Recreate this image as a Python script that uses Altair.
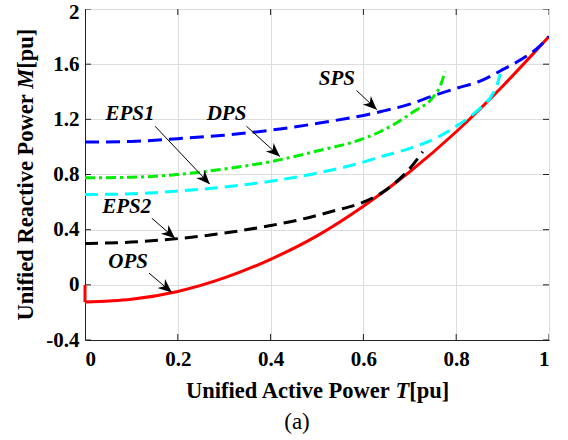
import math
import altair as alt
import pandas as pd

# ---------------- data ----------------
# OPS (red, solid)
ops_t = [0, 0.1, 0.2, 0.3, 0.4, 0.5, 0.6, 0.7, 0.8, 0.9, 1.0]
ops_m = [-0.125, -0.105, -0.048, 0.05, 0.185, 0.355, 0.57, 0.82, 1.11, 1.44, 1.8]
ops_jump_t = [0, 0]
ops_jump_m = [0, -0.125]

# EPS2 (black, dashed)
eps2_t = [0, 0.1, 0.2, 0.3, 0.4, 0.46, 0.535, 0.6, 0.643, 0.7, 0.728]
eps2_m = [0.30, 0.31, 0.335, 0.375, 0.43, 0.47, 0.535, 0.6, 0.675, 0.844, 0.965]

# EPS1 (cyan, dashed)
eps1_t = [0, 0.1, 0.2, 0.273, 0.41, 0.5, 0.6, 0.636, 0.7, 0.76, 0.8, 0.83, 0.851, 0.876, 0.888, 0.895]
eps1_m = [0.655, 0.66, 0.68, 0.70, 0.756, 0.81, 0.89, 0.928, 0.99, 1.07, 1.15, 1.22, 1.28, 1.37, 1.45, 1.53]

# DPS (green, dash-dot)
dps_t = [0, 0.1, 0.2, 0.3, 0.41, 0.5, 0.6, 0.636, 0.708, 0.751, 0.765, 0.776]
dps_m = [0.776, 0.78, 0.80, 0.84, 0.90, 0.97, 1.06, 1.11, 1.255, 1.364, 1.437, 1.546]

# SPS (blue, dashed)
sps_t = [0, 0.1, 0.2, 0.3, 0.42, 0.5, 0.636, 0.7, 0.75, 0.8, 0.85, 0.9, 0.95, 0.973, 1.0]
sps_m = [1.035, 1.04, 1.06, 1.085, 1.13, 1.17, 1.255, 1.31, 1.37, 1.425, 1.475, 1.56, 1.655, 1.71, 1.8]

# annotations: label, text position, arrow start, arrow tip
lab_text = ["SPS", "EPS1", "DPS", "EPS2", "OPS"]
lab_x = [0.543, 0.097, 0.305, 0.09, 0.093]
lab_y = [1.49, 1.236, 1.236, 0.563, 0.167]
arr_x1 = [0.585, 0.151, 0.348, 0.144, 0.138]
arr_y1 = [1.41, 1.15, 1.15, 0.483, 0.085]
arr_x2 = [0.629, 0.269, 0.42, 0.194, 0.187]
arr_y2 = [1.27, 0.73, 0.93, 0.337, -0.055]

x_ticks = [0, 0.2, 0.4, 0.6, 0.8, 1.0]
y_ticks = [-0.4, 0, 0.4, 0.8, 1.2, 1.6, 2.0]

# axis titles (upright part, italic symbol, unit) and caption
x_title = ["Unified Active Power", "T", "[pu]"]
y_title = ["Unified Reactive Power", "M", "[pu]"]
caption = "(a)"

# ---------------- chart ----------------
W, H = 464, 331
X_DOM = [0, 1]
Y_DOM = [-0.4, 2]
FONT = "Liberation Serif"
TFS = 22.5  # axis title font size

label_expr = "datum.value < 0 ? '-' + format(-datum.value, '~g') : format(datum.value, '~g')"

x_axis = alt.Axis(title=None, values=x_ticks, labelExpr=label_expr,
                  grid=True, ticks=False, labelPadding=8)
y_axis = alt.Axis(title=None, values=y_ticks, labelExpr=label_expr,
                  grid=True, ticks=False, labelPadding=6,
                  labelOffset={"condition": {"test": "datum.value >= 2", "value": 3}, "value": 0})
xs = alt.Scale(domain=X_DOM, nice=False, zero=False)
ys = alt.Scale(domain=Y_DOM, nice=False, zero=False)


def X(field="T"):
    return alt.X(f"{field}:Q", scale=xs, axis=x_axis)


def Y(field="M"):
    return alt.Y(f"{field}:Q", scale=ys, axis=y_axis)


def curve(t, m, color, dash=None, interp="monotone", width=3, clip=True):
    df = pd.DataFrame({"T": t, "M": m, "i": list(range(len(t)))})
    kw = dict(color=color, strokeWidth=width, interpolate=interp, clip=clip)
    if dash:
        kw["strokeDash"] = dash
    return alt.Chart(df).mark_line(**kw).encode(x=X(), y=Y(), order="i:Q")


red = curve(ops_t, ops_m, "#ff0000")
red_jump = curve(ops_jump_t, ops_jump_m, "#ff0000", interp="linear", clip=False)
black = curve(eps2_t, eps2_m, "#000000", dash=[13, 7])
cyan = curve(eps1_t, eps1_m, "#00ffff", dash=[13, 7])
green = curve(dps_t, dps_m, "#00ee00", dash=[10, 4, 3, 4])
blue = curve(sps_t, sps_m, "#0000ff", dash=[14, 7])

# arrow geometry (pixel-space direction for head rotation)
kx = W / (X_DOM[1] - X_DOM[0])
ky = H / (Y_DOM[1] - Y_DOM[0])
angles = []
for a, b, c, d in zip(arr_x1, arr_y1, arr_x2, arr_y2):
    dx = (c - a) * kx
    dy = -(d - b) * ky
    angles.append(math.degrees(math.atan2(dx, -dy)) % 360)

arr_df = pd.DataFrame({"T": arr_x1, "M": arr_y1, "T2": arr_x2, "M2": arr_y2, "ang": angles})
arrow_lines = alt.Chart(arr_df).mark_rule(color="black", strokeWidth=1).encode(
    x=X(), y=Y(), x2="T2:Q", y2="M2:Q")
head_path = "M0,0 L0.42,1 L0,0.7 L-0.42,1 Z"
arrow_heads = alt.Chart(arr_df).mark_point(
    shape=head_path, filled=True, color="black", size=760, opacity=1, strokeWidth=0
).encode(x=X("T2"), y=Y("M2"), angle=alt.Angle("ang:Q", scale=None))

lab_df = pd.DataFrame({"T": lab_x, "M": lab_y, "txt": lab_text})
labels = alt.Chart(lab_df).mark_text(
    font=FONT, fontSize=21, fontWeight="bold", fontStyle="italic", color="black",
    align="center", baseline="middle"
).encode(x=X(), y=Y(), text="txt:N")

# inward tick marks on all four sides
xt_df = pd.DataFrame({"T": x_ticks})
yt_df = pd.DataFrame({"M": y_ticks})
tick_kw = dict(color="#222222", thickness=1, size=12, clip=True, opacity=1)
ticks_bottom = alt.Chart(xt_df).mark_tick(orient="vertical", **tick_kw).encode(x=X(), y=alt.value(H))
ticks_top = alt.Chart(xt_df).mark_tick(orient="vertical", **tick_kw).encode(x=X(), y=alt.value(0))
ticks_left = alt.Chart(yt_df).mark_tick(orient="horizontal", **tick_kw).encode(y=Y(), x=alt.value(0))
ticks_right = alt.Chart(yt_df).mark_tick(orient="horizontal", **tick_kw).encode(y=Y(), x=alt.value(W))


# ---- axis titles with italic symbols (Times metrics: em widths) ----
def title_parts(parts, w_main, w_sym, center, across, rotate):
    sp = 0.25 * TFS
    total = (w_main + 0.25 + w_sym + 1.78) * TFS
    out = []
    if not rotate:
        start = center - total / 2
        p = start + w_main * TFS
        pos = [(p, "right", "normal"), (p + sp, "left", "italic"), (p + sp + w_sym * TFS, "left", "normal")]
        for txt, (px, al, st) in zip(parts, pos):
            d = pd.DataFrame({"s": [txt]})
            out.append(alt.Chart(d).mark_text(
                font=FONT, fontSize=TFS, fontWeight="bold", fontStyle=st, color="black",
                align=al, baseline="alphabetic").encode(
                x=alt.value(px), y=alt.value(across), text="s:N"))
    else:
        start = center + total / 2
        p = start - w_main * TFS
        pos = [(p, "right", "normal"), (p - sp, "left", "italic"), (p - sp - w_sym * TFS, "left", "normal")]
        for txt, (py, al, st) in zip(parts, pos):
            d = pd.DataFrame({"s": [txt]})
            out.append(alt.Chart(d).mark_text(
                font=FONT, fontSize=TFS, fontWeight="bold", fontStyle=st, color="black",
                align=al, baseline="alphabetic", angle=270).encode(
                x=alt.value(across), y=alt.value(py), text="s:N"))
    return out


xt_layers = title_parts(x_title, 9.11, 0.611, W / 2, 389, False)
yt_layers = title_parts(y_title, 10.05, 0.889, H / 2, -52, True)

cap = alt.Chart(pd.DataFrame({"s": [caption]})).mark_text(
    font=FONT, fontSize=23, fontWeight="normal", color="black", align="center", baseline="middle"
).encode(x=alt.value(212), y=alt.value(413), text="s:N")

chart = alt.layer(
    red, black, cyan, green, blue,
    arrow_lines, arrow_heads, labels,
    ticks_bottom, ticks_top, ticks_left, ticks_right, red_jump,
    *xt_layers, *yt_layers, cap,
).properties(
    width=W, height=H,
    autosize=alt.AutoSizeParams(type="none"),
    padding={"left": 85, "top": 9, "right": 19, "bottom": 100},
    background="white",
).configure_view(
    stroke="#222222", strokeWidth=1
).configure_axis(
    labelFont=FONT, labelFontSize=21, labelFontWeight="bold", labelColor="black",
    domainColor="#222222", domainWidth=1, gridColor="#dddddd", gridWidth=1,
)

chart.save("out.html", embed_options={"renderer": "svg", "actions": False})
